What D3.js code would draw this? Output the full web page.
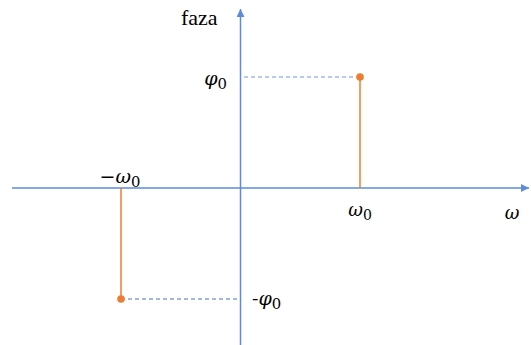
<!DOCTYPE html>
<html>
<head>
<meta charset="utf-8">
<script src="https://cdn.jsdelivr.net/npm/d3@7"></script>
<style>
  html, body { margin: 0; padding: 0; background: #fff; }
  svg { display: block; }
</style>
</head>
<body>
<script>
// Phase spectrum of a single complex tone: two lines at ±ω0
const frequencies = [-1, 1];          // ω / ω0
const phases = [-1, 1];               // φ / φ0
const freqLabels = ["−ω", "ω"];       // text before subscript 0
const phaseLabels = ["-φ", "φ"];

const W = 531, H = 345;
const axisColor = "#5B8BDA";
const stemColor = "#ED7D31";

const x = d3.scaleLinear().domain([-1, 1]).range([121, 360]);
const y = d3.scaleLinear().domain([-1, 1]).range([299, 77]);
const x0 = x(0), y0 = y(0);

const svg = d3.select("body").append("svg").attr("width", W).attr("height", H);

const defs = svg.append("defs");
defs.append("marker")
  .attr("id", "arrow").attr("viewBox", "0 0 10 10")
  .attr("refX", 10).attr("refY", 5)
  .attr("markerWidth", 8).attr("markerHeight", 8)
  .attr("markerUnits", "userSpaceOnUse")
  .attr("orient", "auto")
  .append("path").attr("d", "M0,0 L10,5 L0,10 Z").attr("fill", axisColor);

// axes
svg.append("line")
  .attr("x1", 12).attr("x2", 529).attr("y1", y0).attr("y2", y0)
  .attr("stroke", axisColor).attr("stroke-width", 1.5)
  .attr("marker-end", "url(#arrow)");
svg.append("line")
  .attr("x1", x0).attr("x2", x0).attr("y1", 345).attr("y2", 9)
  .attr("stroke", axisColor).attr("stroke-width", 1.5)
  .attr("marker-end", "url(#arrow)");

// dashed guides from each line tip to the vertical axis
svg.selectAll("line.guide").data(frequencies).join("line")
  .attr("class", "guide")
  .attr("x1", d => x(d)).attr("x2", x0)
  .attr("y1", (d, i) => y(phases[i])).attr("y2", (d, i) => y(phases[i]))
  .attr("stroke", (d, i) => phases[i] > 0 ? "#6F95DB" : "#4A6FB8")
  .attr("stroke-width", 1)
  .attr("stroke-dasharray", "4,3");

// stems
svg.selectAll("line.stem").data(frequencies).join("line")
  .attr("class", "stem")
  .attr("x1", d => x(d)).attr("x2", d => x(d))
  .attr("y1", y0).attr("y2", (d, i) => y(phases[i]))
  .attr("stroke", stemColor).attr("stroke-width", 1.5);
svg.selectAll("circle.tip").data(frequencies).join("circle")
  .attr("class", "tip")
  .attr("cx", d => x(d)).attr("cy", (d, i) => y(phases[i]))
  .attr("r", 3.8).attr("fill", stemColor);

const mathFont = "'DejaVu Serif', serif";

function subLabel(g, main, px, py, anchor, size) {
  const t = g.append("text")
    .attr("x", px).attr("y", py)
    .attr("text-anchor", anchor)
    .attr("font-family", mathFont)
    .attr("font-size", size).attr("fill", "#000");
  t.append("tspan").attr("font-style", "italic").text(main);
  t.append("tspan").attr("dy", 4).attr("font-size", size * 0.78).attr("font-style", "normal").text("0");
  return t;
}

// frequency labels
subLabel(svg, freqLabels[1], x(frequencies[1]), 216, "middle", 18);
subLabel(svg, freqLabels[0], x(frequencies[0]) - 1, 183, "middle", 19);
// phase labels
subLabel(svg, phaseLabels[1], 227, y(phases[1]) + 8, "end", 19);
subLabel(svg, phaseLabels[0], 252, y(phases[0]) + 6, "start", 19);

// axis titles
svg.append("text").attr("x", 512).attr("y", 219)
  .attr("text-anchor", "middle")
  .attr("font-family", mathFont).attr("font-style", "italic")
  .attr("font-size", 18).text("ω");
svg.append("text").attr("x", 181).attr("y", 25)
  .attr("font-family", "'Liberation Serif', 'Times New Roman', serif")
  .attr("font-size", 22).text("faza");
</script>
</body>
</html>
